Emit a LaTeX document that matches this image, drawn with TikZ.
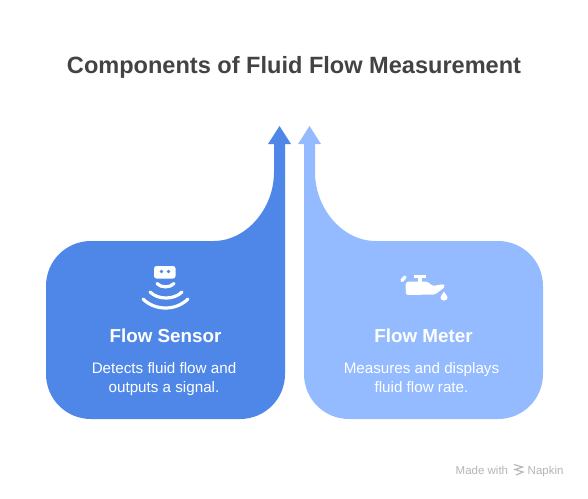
\documentclass[tikz,border=0pt]{standalone}
\usepackage{fontspec}
\setmainfont{Liberation Sans}
\definecolor{bluedark}{HTML}{4F87E8}
\definecolor{bluelight}{HTML}{94BBFF}
\definecolor{titlegray}{HTML}{434343}
\definecolor{markgray}{HTML}{B5B5B5}
\tikzset{
  titletext/.style={text=titlegray,font=\bfseries\fontsize{23.55}{28}\selectfont,inner sep=0pt},
  headtext/.style={text=white,font=\bfseries\fontsize{18.8}{22}\selectfont,inner sep=0pt},
  bodytext/.style={text=white,font=\fontsize{15.2}{18.5}\selectfont,align=center,inner sep=0pt},
  marktext/.style={text=markgray,font=\fontsize{11.5}{14}\selectfont,inner sep=0pt},
  glyph/.style={fill=white,draw=none},
  wave/.style={draw=white,line width=3.2pt,line cap=round,fill=none}
}
\begin{document}
\begin{tikzpicture}[x=1pt,y=-1pt]
\useasboundingbox[fill=white] (0,0) rectangle (588,498);
% left shape
\fill[bluedark] (279.5,126) -- (291,144) -- (285,144) -- (285,374)
  .. controls (285,399) and (265,419) .. (240,419) -- (91,419)
  .. controls (66,419) and (46,399) .. (46,374) -- (46,286)
  .. controls (46,261) and (66,241) .. (91,241) -- (214,241)
  .. controls (245,241) and (274,210) .. (274,172) -- (274,144) -- (268,144) -- cycle;
% right shape
\fill[bluelight] (309.5,126) -- (321,144) -- (315,144) -- (315,172)
  .. controls (315,210) and (344,241) .. (375,241) -- (498,241)
  .. controls (523,241) and (543,261) .. (543,286) -- (543,374)
  .. controls (543,399) and (523,419) .. (498,419) -- (349,419)
  .. controls (324,419) and (304,399) .. (304,374) -- (304,144) -- (298,144) -- cycle;
% texts
\node[titletext] (title) at (294,67) {Components of Fluid Flow Measurement};
\node[headtext] (h1) at (165.5,336) {Flow Sensor};
\node[headtext] (h2) at (423.5,336) {Flow Meter};
\node[bodytext] (b1) at (164,379.5) {\strut Detects fluid flow and\\\strut outputs a signal.};
\node[bodytext] (b2) at (421.5,379.5) {\strut Measures and displays\\\strut fluid flow rate.};
\node[marktext,anchor=base west] (m1) at (455.5,474) {Made with};
\node[marktext,anchor=base west] (m2) at (527.5,474) {Napkin};
% sensor icon
\fill[glyph,rounded corners=2.5pt] (154,266) rectangle (175.5,278.5);
\fill[bluedark] (161.5,271.5) circle (1.8);
\fill[bluedark] (168.5,271.5) circle (1.8);
\draw[wave] (157,283.5) .. controls (161,288) and (170,288) .. (174,283.5);
\draw[wave] (150,292) .. controls (158,300) and (174,300) .. (182,292);
\draw[wave] (143,299) .. controls (155,311) and (176,311) .. (188,299);
% tap icon
\fill[glyph] (414,275) rectangle (425.5,278);
\fill[glyph] (417.5,278) rectangle (422,282);
\fill[glyph,rounded corners=1.5pt] (408,281.5) -- (427,281.5) -- (433,286) -- (444,284) -- (445,287) -- (435,294.5) -- (406,295) -- (405.5,283) -- cycle;
\draw[white,line width=3.4pt,line cap=round] (402,280.5) -- (405,277);
\fill[glyph] (444,291.5) .. controls (445.5,294.5) and (447.5,296) .. (447.5,297.5) .. controls (447.5,301.5) and (440.5,301.5) .. (440.5,297.5) .. controls (440.5,296) and (442.5,294.5) .. (444,291.5) -- cycle;
% napkin mark
\draw[markgray,line width=1.1pt] (514,464.5) -- (522.5,467) -- (515,469.5) -- (523,472) -- (516,475);
\end{tikzpicture}
\end{document}
